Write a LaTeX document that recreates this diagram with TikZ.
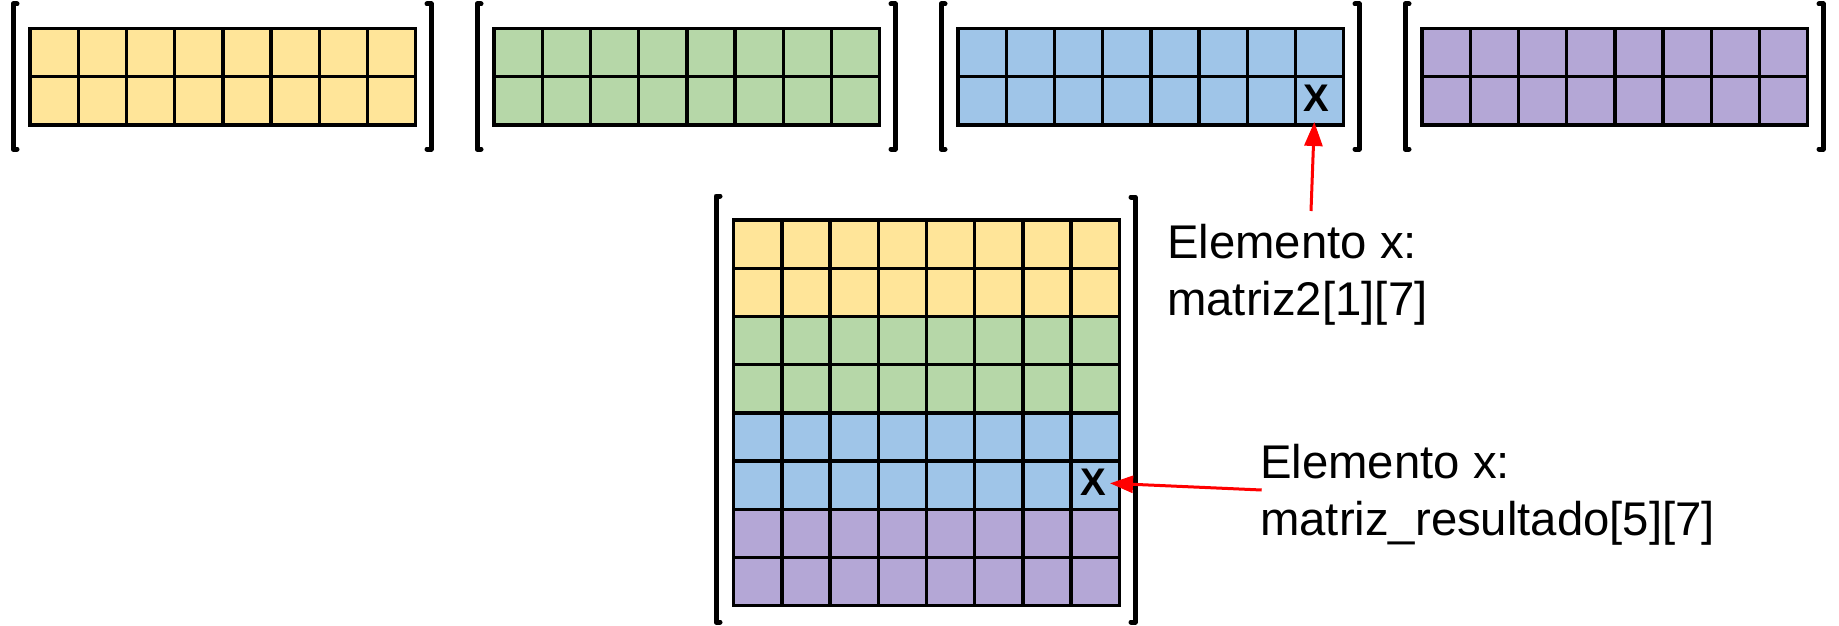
\documentclass[tikz,border=0pt]{standalone}
\usepackage{fontspec}
\setmainfont{Liberation Sans}
\usetikzlibrary{arrows.meta}
\definecolor{cyel}{HTML}{FFE599}
\definecolor{cgrn}{HTML}{B6D7A8}
\definecolor{cblu}{HTML}{9FC5E8}
\definecolor{cpur}{HTML}{B4A7D6}
\definecolor{cred}{HTML}{FF0000}
\def\cw{48.2}
\tikzset{
  cellbox/.style={draw=black, line width=3.4pt},
  brk/.style={draw=black, line width=5pt, line join=round, line cap=round},
  xmark/.style={inner sep=0pt, font=\fontsize{38.5}{40}\selectfont\bfseries},
  redarrow/.style={draw=cred, line width=3pt},
  lbl/.style={inner sep=0pt, align=left, anchor=north west, font=\fontsize{47.3}{56.7}\selectfont},
}
\newcommand\drawgrid[4]{%
  \foreach \i in {0,...,7}{\foreach \j in {1,...,#3}{%
    \filldraw[cellbox, fill=#4] ({#1+\i*\cw},{#2+(\j-1)*\cw}) rectangle ++(\cw,\cw);}}}
\newcommand\lbrk[3]{\draw[brk] ({#1+4},#2) -- (#1,#2) -- (#1,#3) -- ({#1+4},#3);}
\newcommand\rbrk[3]{\draw[brk] ({#1-4},#2) -- (#1,#2) -- (#1,#3) -- ({#1-4},#3);}
\begin{document}
\begin{tikzpicture}[x=1pt,y=-1pt]
\useasboundingbox (0,0) rectangle (1839,626);
% top matrices
\drawgrid{30}{28.4}{2}{cyel}
\lbrk{13}{4}{149} \rbrk{431}{4}{149}
\drawgrid{494}{28.4}{2}{cgrn}
\lbrk{477}{4}{149} \rbrk{895}{4}{149}
\drawgrid{958}{28.4}{2}{cblu}
\lbrk{941}{4}{149} \rbrk{1359}{4}{149}
\drawgrid{1422}{28.4}{2}{cpur}
\lbrk{1405}{4}{149} \rbrk{1823}{4}{149}
% big matrix
\drawgrid{733.7}{220}{2}{cyel}
\drawgrid{733.7}{316.4}{2}{cgrn}
\drawgrid{733.7}{412.8}{2}{cblu}
\drawgrid{733.7}{509.2}{2}{cpur}
\lbrk{716}{196}{622} \rbrk{1135}{197}{622}
% X marks
\node[xmark] (x1) at (1316.7,98.3) {X};
\node[xmark] (x2) at (1093.3,482.5) {X};
% labels
\node[lbl] (lab1) at (1167,224.5) {Elemento x:\\matriz2[1][7]};
\node[lbl] (lab2) at (1260,444.5) {Elemento x:\\matriz\_resultado[5][7]};
% arrows
\coordinate (a1s) at (1311,211);
\coordinate (a1t) at (1314.3,122);
\coordinate (a2s) at (1261.7,490);
\coordinate (a2t) at (1110,483.3);
\draw[redarrow, -{Triangle[length=24pt,width=18pt]}] (a1s) -- (a1t);
\draw[redarrow, -{Triangle[length=23pt,width=17pt]}] (a2s) -- (a2t);
\end{tikzpicture}
\end{document}
